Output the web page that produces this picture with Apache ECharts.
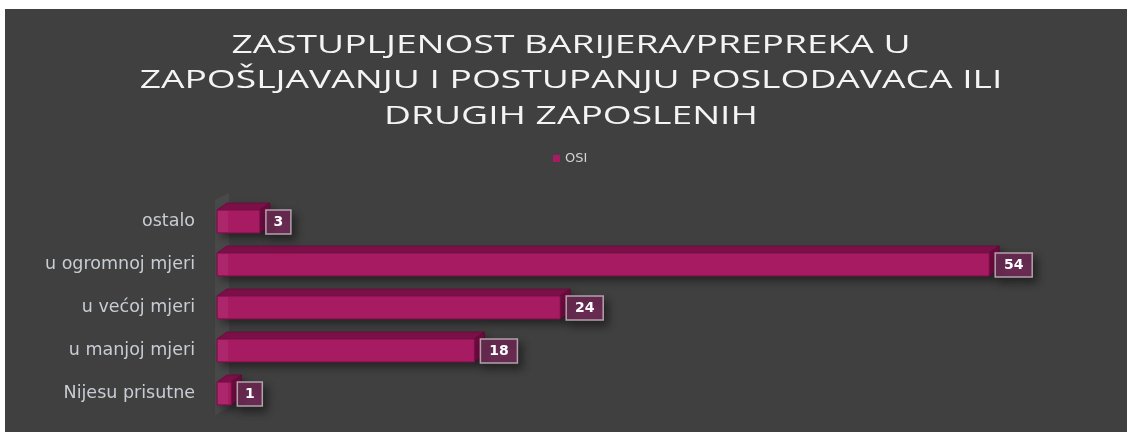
<!DOCTYPE html>
<html>
<head>
<meta charset="utf-8">
<script src="https://cdn.jsdelivr.net/npm/echarts@6/dist/echarts.min.js"></script>
<style>
html,body{margin:0;padding:0;background:#fff;}
#chart{width:1129px;height:432px;}
</style>
</head>
<body>
<div id="chart"></div>
<script>
const titleText = 'ZASTUPLJENOST BARIJERA/PREPREKA U\nZAPOŠLJAVANJU I POSTUPANJU POSLODAVACA ILI\nDRUGIH ZAPOSLENIH';
const seriesName = 'OSI';
const categories = ['Nijesu prisutne', 'u manjoj mjeri', 'u većoj mjeri', 'u ogromnoj mjeri', 'ostalo'];
const values = [1, 18, 24, 54, 3];

const FRONT = '#A71B63', TOP = '#7B1049', SIDE = '#6A0C3E';
const DX = 10, DY = 7, BAR_H = 23;

const chart = echarts.init(document.getElementById('chart'));
chart.setOption({
  backgroundColor: '#ffffff',
  animation: false,
  title: {show: false, text: titleText},
  graphic: [
    {
      type: 'rect', left: 5, top: 9, z: -10,
      shape: {width: 1122, height: 423},
      style: {fill: '#404040'}
    },
    {
      type: 'text', x: 571, y: 81, scaleX: 1.43, z: 10,
      style: {
        text: titleText, fill: '#f4f4f4', fontFamily: 'Open Sans', fontSize: 26,
        lineHeight: 35.5, align: 'center', verticalAlign: 'middle'
      }
    }
  ],
  legend: {
    data: [{name: seriesName, icon: 'rect'}],
    left: 548, top: 147,
    itemWidth: 7, itemHeight: 7, itemGap: 4,
    textStyle: {color: '#d0d4d8', fontFamily: 'DejaVu Sans', fontSize: 13}
  },
  grid: {left: 217, top: 200, width: 858, height: 215, containLabel: false},
  xAxis: {
    type: 'value', min: 0, max: 60, show: false
  },
  yAxis: {
    type: 'category', data: categories,
    axisLine: {show: false}, axisTick: {show: false}, splitLine: {show: false},
    axisLabel: {color: '#c8cdd3', fontFamily: 'DejaVu Sans', fontSize: 17.5, margin: 22}
  },
  series: [
    {
      type: 'custom', name: 'wall', silent: true, z: 1,
      data: [[0, 0]],
      encode: {x: 0, y: 1},
      renderItem: function (params) {
        const cs = params.coordSys;
        const x0 = cs.x, yT = cs.y, yB = cs.y + cs.height;
        return {
          type: 'polygon',
          shape: {points: [[x0 - 2, yB], [x0 + DX + 2, yB - DY], [x0 + DX + 2, yT - DY], [x0 - 2, yT]]},
          style: {fill: 'rgba(255,255,255,0.05)'}
        };
      }
    },
    {
      type: 'custom', name: seriesName, z: 2,
      itemStyle: {color: FRONT},
      data: values.map((v, i) => [v, i]),
      encode: {x: 0, y: 1},
      renderItem: function (params, api) {
        const v = api.value(0), c = api.value(1);
        const p0 = api.coord([0, c]);
        const p1 = api.coord([v, c]);
        const x0 = p0[0], x1 = p1[0];
        const yT = p0[1] - BAR_H / 2, yB = p0[1] + BAR_H / 2;
        const label = String(v);
        const bw = 13 + 12 * label.length;
        const shadow = {shadowBlur: 9, shadowColor: 'rgba(0,0,0,0.45)', shadowOffsetX: 4, shadowOffsetY: 5};
        return {
          type: 'group',
          children: [
            {type: 'polygon', shape: {points: [[x0, yT], [x0 + DX, yT - DY], [x1 + DX, yT - DY], [x1 + DX, yB - DY], [x1, yB], [x0, yB]]},
             style: Object.assign({fill: SIDE}, shadow)},
            {type: 'polygon', shape: {points: [[x0, yT], [x0 + DX, yT - DY], [x1 + DX, yT - DY], [x1, yT]]},
             style: {fill: TOP, stroke: '#6a0c3e', lineWidth: 0.8}},
            {type: 'polygon', shape: {points: [[x1, yT], [x1 + DX, yT - DY], [x1 + DX, yB - DY], [x1, yB]]},
             style: {fill: SIDE, stroke: '#5c0a35', lineWidth: 0.8}},
            {type: 'rect', shape: {x: x0, y: yT, width: Math.max(x1 - x0, 0), height: BAR_H},
             style: {fill: FRONT, stroke: '#7B1049', lineWidth: 1}},
            {type: 'rect', shape: {x: x0 + 1, y: yT + 1, width: Math.min(10, Math.max(x1 - x0 - 2, 0)), height: BAR_H - 2},
             style: {fill: 'rgba(255,255,255,0.05)'}},
            {type: 'rect', shape: {x: x1 + 6, y: yT, width: bw, height: BAR_H + 1},
             style: Object.assign({fill: '#6a2b52', stroke: '#b3a2ac', lineWidth: 1.5}, shadow)},
            {type: 'text', x: x1 + 6 + bw / 2, y: p0[1] + 1,
             style: {text: label, fill: '#ffffff', fontFamily: 'DejaVu Sans', fontWeight: 'bold', fontSize: 14, align: 'center', verticalAlign: 'middle'}}
          ]
        };
      }
    }
  ]
});
</script>
</body>
</html>
